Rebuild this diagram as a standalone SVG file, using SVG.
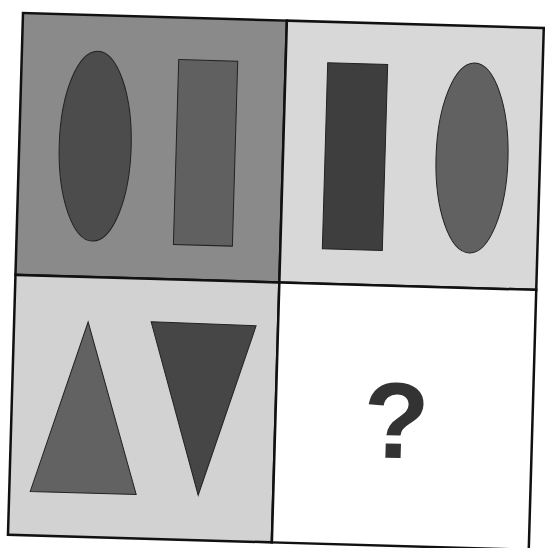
<svg xmlns="http://www.w3.org/2000/svg" width="545" height="548" viewBox="0 0 545 548">
  <style>
    .cell { stroke: #111; stroke-width: 2.5; }
    .shape { stroke: #222; stroke-width: 1; }
    .q { font-family: "Liberation Sans", Arial, sans-serif; font-weight: bold; font-size: 108px; fill: #333; text-anchor: middle; }
  </style>
  <rect x="0" y="0" width="545" height="548" fill="#ffffff"/>
  <g transform="translate(23,13) rotate(1.65)">
    <g id="panel-top-left">
      <rect class="cell" x="0" y="0" width="264" height="262" fill="#8a8a8a"/>
      <ellipse class="shape" cx="76" cy="131" rx="36" ry="95" fill="#4c4c4c"/>
      <rect class="shape" x="157" y="42" width="59" height="185" fill="#606060"/>
    </g>
    <g id="panel-top-right">
      <rect class="cell" x="264" y="0" width="257" height="262" fill="#d8d8d8"/>
      <rect class="shape" x="306" y="41" width="60" height="186" fill="#3e3e3e"/>
      <ellipse class="shape" cx="453" cy="132" rx="36" ry="95" fill="#616161"/>
    </g>
    <g id="panel-bottom-left">
      <rect class="cell" x="0" y="262" width="264" height="260" fill="#d2d2d2"/>
      <polygon class="shape" points="74,307 21,478 127,478" fill="#626262"/>
      <polygon class="shape" points="137,305 242,306 189,477" fill="#464646"/>
    </g>
    <g id="panel-bottom-right">
      <rect class="cell" x="264" y="262" width="257" height="260" fill="#ffffff"/>
      <text class="q" x="385" y="434">?</text>
    </g>
  </g>
</svg>
